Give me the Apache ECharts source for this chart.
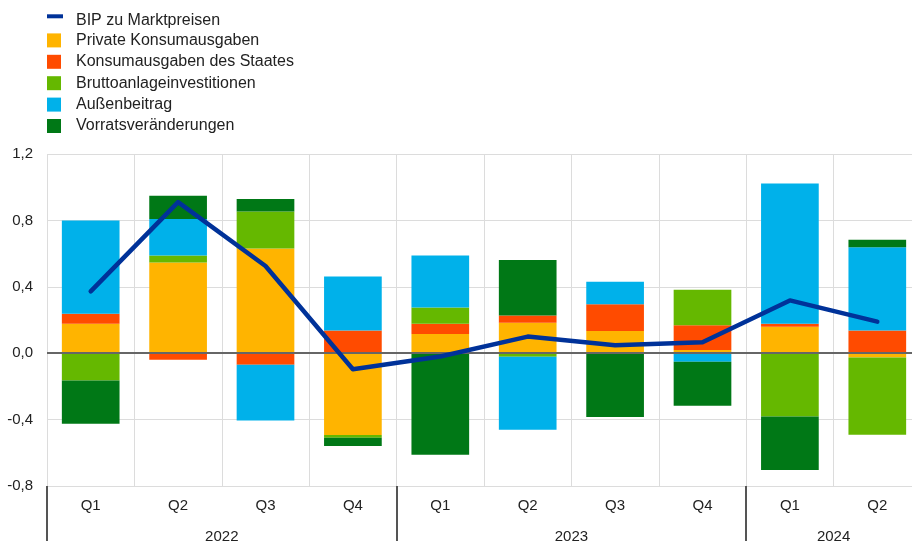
<!DOCTYPE html>
<html>
<head>
<meta charset="utf-8">
<script src="https://cdn.jsdelivr.net/npm/echarts@6/dist/echarts.min.js"></script>
<style>html,body{margin:0;padding:0;background:#fff}#c{width:912px;height:541px}</style>
</head>
<body>
<div id="c"></div>
<script>
var quarters = ['Q1','Q2','Q3','Q4','Q1','Q2','Q3','Q4','Q1','Q2'];
var years = ['2022','2023','2024'];
var yearSpans = [4, 4, 2];
var yTicks = [-0.8, -0.4, 0, 0.4, 0.8, 1.2];
var gdp         = [0.372, 0.91, 0.525, -0.097, -0.02, 0.10, 0.048, 0.066, 0.318, 0.19];
var privCons    = [0.177, 0.546, 0.631, -0.493, 0.116, 0.183, 0.134, 0.02, 0.16, -0.026];
var govCons     = [0.06, -0.04, -0.07, 0.136, 0.062, 0.044, 0.161, 0.149, 0.018, 0.136];
var gfcf        = [-0.165, 0.042, 0.223, -0.016, 0.097, -0.022, 0, 0.213, -0.382, -0.465];
var netTrade    = [0.563, 0.221, -0.336, 0.326, 0.314, -0.439, 0.136, -0.052, 0.845, 0.503];
var inventories = [-0.26, 0.139, 0.075, -0.05, -0.611, 0.334, -0.384, -0.265, -0.322, 0.044];

var names = ['BIP zu Marktpreisen','Private Konsumausgaben','Konsumausgaben des Staates','Bruttoanlageinvestitionen','Außenbeitrag','Vorratsveränderungen'];
var colors = ['#003299','#FFB400','#FF4B00','#65B800','#00B1EA','#007816'];

var yearStarts = [], yearCenters = {};
var acc = 0;
yearSpans.forEach(function (s, i) { yearStarts.push(acc); yearCenters[acc + s / 2] = years[i]; acc += s; });

var FONT = 'Liberation Sans, Arial, sans-serif';
var chart = echarts.init(document.getElementById('c'), null, {renderer: 'canvas'});

function bar(idx, data) {
  return {
    name: names[idx], type: 'bar', stack: 'total', data: data,
    barWidth: '66%', itemStyle: {color: colors[idx]}, z: 2
  };
}

var option = {
  animation: false,
  backgroundColor: '#fff',
  legend: [
    {
      data: [{name: names[0], icon: 'path://M0,0 M0,14 M0,1 L16,1 L16,5 L0,5 Z'}],
      left: 47, top: 12.3, orient: 'vertical', padding: 0,
      itemWidth: 16, itemHeight: 14,
      textStyle: {fontFamily: FONT, fontSize: 16, color: '#222', padding: [3, 0, 0, 8]}
    },
    {
      data: names.slice(1).map(function (n) { return {name: n, icon: 'rect'}; }),
      left: 47, top: 32.4, orient: 'vertical', padding: 0,
      itemWidth: 14, itemHeight: 14, itemGap: 5.4,
      textStyle: {fontFamily: FONT, fontSize: 16, color: '#222', padding: [3, 0, 0, 10]}
    }
  ],
  grid: {left: 47, top: 154, width: 874, height: 332, containLabel: false, outerBoundsMode: 'none'},
  xAxis: [
    {
      type: 'category', data: quarters, position: 'bottom',
      axisLine: {show: false, onZero: false},
      axisTick: {
        show: true, length: 58,
        interval: function (i) { return yearStarts.indexOf(i) >= 0; },
        lineStyle: {color: '#555', width: 2}
      },
      axisLabel: {fontFamily: FONT, fontSize: 15, color: '#222', margin: 12, interval: 0},
      splitLine: {show: true, interval: 0, lineStyle: {color: '#dcdcdc', width: 1}}
    },
    {
      type: 'value', min: 0, max: quarters.length, interval: 0.5, position: 'bottom',
      axisLine: {show: false, onZero: false}, axisTick: {show: false}, splitLine: {show: false},
      axisLabel: {
        fontFamily: FONT, fontSize: 15, color: '#222', margin: 43,
        showMinLabel: true, showMaxLabel: true,
        formatter: function (v) { return yearCenters[v] || ''; }
      }
    }
  ],
  yAxis: {
    type: 'value', min: yTicks[0], max: yTicks[yTicks.length - 1], interval: 0.4,
    axisLine: {show: false}, axisTick: {show: false},
    axisLabel: {
      fontFamily: FONT, fontSize: 15, color: '#222', margin: 14,
      formatter: function (v) { return v.toFixed(1).replace('.', ','); }
    },
    splitLine: {show: true, lineStyle: {color: '#dcdcdc', width: 1}}
  },
  series: [
    bar(1, privCons),
    bar(2, govCons),
    bar(3, gfcf),
    bar(4, netTrade),
    Object.assign(bar(5, inventories), {
      markLine: {
        silent: true, symbol: 'none', label: {show: false},
        lineStyle: {color: '#666', width: 2, type: 'solid'},
        data: [{yAxis: 0}]
      }
    }),
    {
      name: names[0], type: 'line', data: gdp, z: 10,
      symbol: 'none', smooth: false,
      lineStyle: {color: colors[0], width: 4.5, cap: 'round', join: 'round'},
      itemStyle: {color: colors[0]}
    }
  ]
};
chart.setOption(option);
</script>
</body>
</html>
